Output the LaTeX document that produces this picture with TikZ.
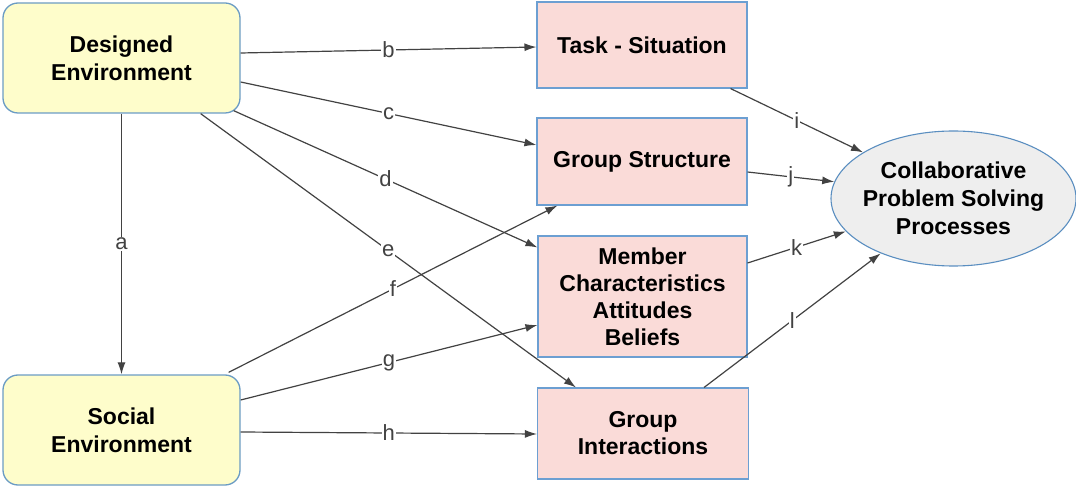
\documentclass[tikz,border=0pt]{standalone}
\usepackage{fontspec}
\setmainfont{Liberation Sans}
\usetikzlibrary{arrows.meta,shapes.geometric}
\definecolor{envfill}{HTML}{FEFDCB}
\definecolor{envdraw}{HTML}{6B9CC4}
\definecolor{boxfill}{HTML}{FADBD8}
\definecolor{boxdraw}{HTML}{6C9FD2}
\definecolor{ellfill}{HTML}{EEEEEE}
\definecolor{ellline}{HTML}{5A8EC0}
\definecolor{lnk}{HTML}{424242}
\tikzset{
  envbox/.style={draw=envdraw, fill=envfill, line width=1.3pt, rounded corners=15pt,
    minimum width=237pt, minimum height=110pt, align=center,
    font=\fontsize{23}{28}\selectfont\bfseries, inner sep=0pt},
  pinkbox/.style={draw=boxdraw, fill=boxfill, line width=1.1pt,
    align=center, font=\fontsize{23}{27}\selectfont\bfseries, inner sep=0pt},
  procell/.style={ellipse, draw=ellline, fill=ellfill, line width=1.1pt,
    minimum width=245pt, minimum height=135pt, align=center,
    font=\fontsize{23}{28}\selectfont\bfseries, inner xsep=-10pt, inner ysep=0pt},
  link/.style={draw=lnk, line width=1.2pt, -{Latex[length=12pt,width=8pt]}},
  lbl/.style={fill=white, text=lnk, font=\fontsize{22}{24}\selectfont,
    inner sep=1pt, pos=0.5}
}
\begin{document}
\begin{tikzpicture}[x=1pt,y=-1pt]
\useasboundingbox (0,0) rectangle (1076,486);
\node[envbox] (de) at (121.5,58) {Designed\\Environment};
\node[envbox] (se) at (121.5,430) {Social\\Environment};
\node[pinkbox, minimum width=210pt, minimum height=86pt] (ts) at (642,45) {Task - Situation};
\node[pinkbox, minimum width=210pt, minimum height=87pt] (gs) at (642,161.5) {Group Structure};
\node[pinkbox, minimum width=209pt, minimum height=121pt] (mc) at (642.5,296.5) {Member\\Characteristics\\Attitudes\\Beliefs};
\node[pinkbox, minimum width=211pt, minimum height=91pt] (gi) at (643,433.5) {Group\\Interactions};
\node[procell] (cp) at (953.5,198.5) {Collaborative\\Problem Solving\\Processes};

\draw[link] (de.south) -- node[lbl] (la) {a} (se.north);
\draw[link] ([yshift=5pt]de.east) -- node[lbl] (lb) {b} ([yshift=-2pt]ts.west);
\draw[link] ([yshift=-24pt]de.east) -- node[lbl] (lc) {c} ([yshift=16.5pt]gs.west);
\draw[link] ([xshift=-7pt,yshift=3pt]de.south east) -- node[lbl] (ld) {d} ([yshift=-12pt]mc.north west);
\draw[link] ([xshift=-40pt]de.south east) -- node[lbl] (le) {e} ([xshift=39pt]gi.north west);
\draw[link] ([xshift=-12pt,yshift=2pt]se.north east) -- node[lbl] (lf) {f} ([xshift=21pt]gs.south west);
\draw[link] ([yshift=30pt]se.east) -- node[lbl] (lg) {g} ([yshift=-28.5pt]mc.west);
\draw[link] ([yshift=-2pt]se.east) -- node[lbl] (lh) {h} ([yshift=-0.5pt]gi.west);
\draw[link] ([xshift=-17pt]ts.south east) -- node[lbl] (li) {i} (cp.153.6);
\draw[link] ([yshift=-10.5pt]gs.east) -- node[lbl] (lj) {j} (cp.172.7);
\draw[link] ([yshift=33.5pt]mc.east) -- node[lbl] (lk) {k} (cp.197.1);
\draw[link] ([xshift=-45pt]gi.north east) -- node[lbl] (ll) {l} (cp.217.7);
\end{tikzpicture}
\end{document}
